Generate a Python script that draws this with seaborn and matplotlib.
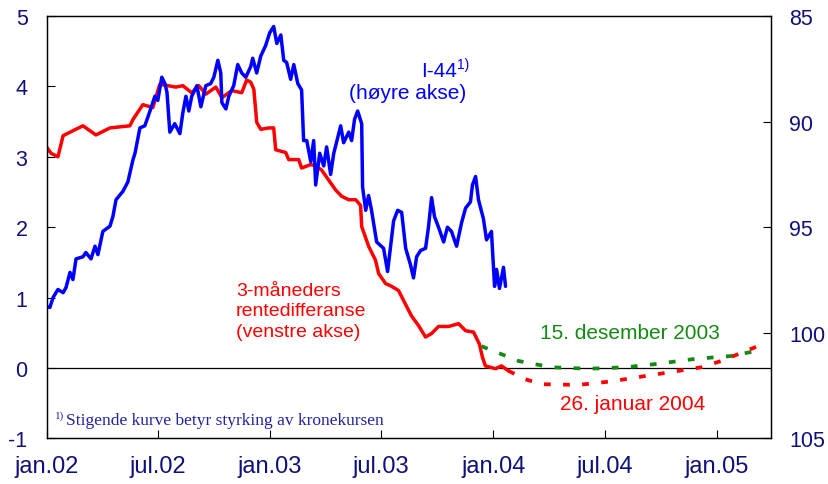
import numpy as np
import pandas as pd
import matplotlib
matplotlib.use("Agg")
import matplotlib.pyplot as plt
import seaborn as sns

# ---- data (time in decimal years) ----
rente_t = [0.000, 0.018, 0.049, 0.072, 0.116, 0.161, 0.219, 0.282, 0.371, 0.385,
           0.429, 0.474, 0.505, 0.577, 0.608, 0.648, 0.680, 0.711, 0.756, 0.783,
           0.827, 0.872, 0.894, 0.912, 0.926, 0.939, 0.957, 0.993, 1.015, 1.024,
           1.069, 1.082, 1.127, 1.140, 1.181, 1.203, 1.230, 1.261, 1.292, 1.319,
           1.351, 1.382, 1.404, 1.409, 1.440, 1.471, 1.485, 1.516, 1.543, 1.574,
           1.606, 1.632, 1.664, 1.695, 1.722, 1.753, 1.798, 1.843, 1.874, 1.910,
           1.936, 1.950, 1.963, 2.008, 2.035, 2.066]
rente_v = [3.13, 3.05, 3.00, 3.30, 3.37, 3.44, 3.31, 3.41, 3.44, 3.53,
           3.74, 3.70, 4.03, 3.99, 4.01, 3.91, 4.01, 3.89, 3.99, 3.84,
           3.94, 3.91, 4.09, 4.06, 3.96, 3.49, 3.39, 3.41, 3.41, 3.10,
           3.06, 2.96, 2.96, 2.84, 2.89, 2.87, 2.81, 2.67, 2.53, 2.44,
           2.39, 2.39, 2.31, 2.01, 1.73, 1.53, 1.34, 1.20, 1.16, 1.10,
           0.90, 0.74, 0.60, 0.44, 0.49, 0.59, 0.59, 0.63, 0.53, 0.51,
           0.34, 0.15, 0.03, -0.01, 0.03, -0.04]

i44_t = [0.000, 0.013, 0.027, 0.049, 0.072, 0.085, 0.103, 0.116, 0.130, 0.161,
         0.174, 0.197, 0.215, 0.228, 0.250, 0.282, 0.295, 0.309, 0.340, 0.362,
         0.385, 0.394, 0.416, 0.438, 0.461, 0.483, 0.496, 0.514, 0.528, 0.537,
         0.550, 0.572, 0.595, 0.608, 0.622, 0.635, 0.648, 0.671, 0.689, 0.711,
         0.733, 0.747, 0.765, 0.778, 0.783, 0.801, 0.814, 0.836, 0.854, 0.872,
         0.890, 0.912, 0.921, 0.939, 0.957, 0.979, 0.997, 1.015, 1.029, 1.047,
         1.060, 1.073, 1.091, 1.105, 1.123, 1.140, 1.149, 1.163, 1.181, 1.194,
         1.203, 1.221, 1.239, 1.252, 1.270, 1.284, 1.315, 1.328, 1.351, 1.364,
         1.377, 1.391, 1.409, 1.413, 1.427, 1.440, 1.453, 1.476, 1.507, 1.525,
         1.552, 1.570, 1.588, 1.606, 1.628, 1.641, 1.655, 1.673, 1.695, 1.708,
         1.722, 1.735, 1.753, 1.776, 1.793, 1.811, 1.834, 1.856, 1.874, 1.896,
         1.905, 1.919, 1.932, 1.954, 1.968, 1.990, 2.004, 2.013, 2.026, 2.044,
         2.053]
i44_v = [98.76, 98.80, 98.33, 97.95, 98.10, 97.86, 97.14, 97.48, 96.50, 96.40,
         96.20, 96.50, 95.90, 96.30, 95.20, 94.95, 94.50, 93.70, 93.30, 92.86,
         91.80, 91.50, 90.30, 90.20, 89.50, 88.80, 89.00, 87.90, 88.20, 88.60,
         90.50, 90.10, 90.57, 89.60, 88.80, 89.50, 88.80, 88.30, 89.30, 88.30,
         88.20, 87.90, 87.10, 87.70, 89.10, 89.40, 88.80, 88.30, 87.30, 87.70,
         87.90, 87.40, 87.00, 87.70, 86.90, 86.40, 85.80, 85.50, 86.30, 85.90,
         87.10, 87.20, 88.00, 87.30, 88.20, 88.50, 90.90, 90.90, 91.90, 90.90,
         93.00, 91.50, 92.10, 91.20, 92.50, 91.50, 90.20, 91.00, 90.50, 90.90,
         89.90, 89.50, 90.10, 93.10, 94.20, 93.50, 94.20, 95.70, 96.00, 97.10,
         94.70, 94.20, 94.30, 96.00, 96.80, 97.40, 96.40, 96.10, 96.00, 95.00,
         93.60, 94.50, 95.00, 95.70, 95.00, 95.20, 95.90, 94.80, 94.10, 93.80,
         93.00, 92.60, 93.70, 94.60, 95.60, 95.20, 97.80, 97.00, 97.90, 96.90,
         97.80]

fwd_des_t = [1.945, 2.111, 2.258, 2.424, 2.589, 2.737, 2.902, 3.063, 3.171]
fwd_des_v = [0.31, 0.10, 0.01, -0.01, 0.01, 0.06, 0.13, 0.17, 0.24]

fwd_jan_t = [2.066, 2.142, 2.214, 2.379, 2.527, 2.706, 2.929, 3.019, 3.175]
fwd_jan_v = [-0.04, -0.16, -0.23, -0.24, -0.19, -0.10, 0.01, 0.10, 0.30]

tick_dates = ["2002-01-01", "2002-07-01", "2003-01-01", "2003-07-01",
              "2004-01-01", "2004-07-01", "2005-01-01"]
tick_labels = ["jan.02", "jul.02", "jan.03", "jul.03", "jan.04", "jul.04", "jan.05"]
left_ticks = [-1, 0, 1, 2, 3, 4, 5]
right_ticks = [85, 90, 95, 100, 105]


def to_dates(t):
    start = pd.Timestamp("2002-01-01")
    return start + pd.to_timedelta(np.asarray(t) * 365.25, unit="D")


sns.set_theme(style="white")
plt.rcParams["font.family"] = ["Liberation Sans", "DejaVu Sans"]
navy = "#10107a"

fig, ax = plt.subplots(figsize=(8.29, 4.85), dpi=100)
fig.subplots_adjust(left=0.0567, right=0.930, bottom=0.094, top=0.965)
ax2 = ax.twinx()

sns.lineplot(x=to_dates(rente_t), y=rente_v, ax=ax, color="#ff0000",
             linewidth=2.5, estimator=None)
sns.lineplot(x=to_dates(fwd_des_t), y=fwd_des_v, ax=ax, color="#138a13",
             linewidth=2.7, estimator=None)
ax.lines[-1].set_dashes((1.8, 3.3))
sns.lineplot(x=to_dates(fwd_jan_t), y=fwd_jan_v, ax=ax, color="#ff0000",
             linewidth=2.7, estimator=None)
ax.lines[-1].set_dashes((1.8, 3.3))
sns.lineplot(x=to_dates(i44_t), y=i44_v, ax=ax2, color="#0000ff",
             linewidth=2.5, estimator=None)

ax.axhline(0, color="black", linewidth=0.9, zorder=1)

ax.set_xlim(pd.Timestamp("2002-01-01"), pd.Timestamp("2005-03-30"))
ax.set_ylim(-1, 5)
ax2.set_ylim(105, 85)

ax.set_xticks(pd.to_datetime(tick_dates))
ax.set_xticklabels(tick_labels)
ax.set_yticks(left_ticks)
ax.set_yticklabels([str(v) for v in left_ticks])
ax2.set_yticks(right_ticks)
ax2.set_yticklabels([str(v) for v in right_ticks])

ax.tick_params(axis="x", direction="in", length=6, width=0.8, color="black",
               labelsize=17, labelcolor=navy, pad=12, bottom=True)
ax.tick_params(axis="y", direction="in", length=6, width=0.8, color="black",
               labelsize=15.5, labelcolor=navy, pad=14, left=True)
ax2.tick_params(axis="y", direction="in", length=6, width=0.8, color="black",
                labelsize=15.5, labelcolor=navy, pad=13, right=True)
for a in (ax, ax2):
    for s in a.spines.values():
        s.set_color("black")
        s.set_linewidth(0.9)
ax.set_xlabel("")
ax.set_ylabel("")
ax2.set_ylabel("")
ax.grid(False)
ax2.grid(False)

# annotations
ax.text(0.566, 0.870, "I-44", transform=ax.transAxes, color="#0000ff",
        fontsize=15, ha="right", va="center")
ax.text(0.567, 0.887, "1)", transform=ax.transAxes, color="#0000ff",
        fontsize=10, ha="left", va="center")
ax.text(0.579, 0.820, "(høyre akse)", transform=ax.transAxes, color="#0000ff",
        fontsize=15, ha="right", va="center")
ax.text(0.261, 0.302, "3-måneders\nrentedifferanse\n(venstre akse)",
        transform=ax.transAxes, color="#ff0000", fontsize=14, ha="left",
        va="center", linespacing=1.25)
ax.text(0.805, 0.250, "15. desember 2003", transform=ax.transAxes,
        color="#138a13", fontsize=15, ha="center", va="center")
ax.text(0.809, 0.082, "26. januar 2004", transform=ax.transAxes,
        color="#ff0000", fontsize=15, ha="center", va="center")
ax.text(0.011, 0.056, "1)", transform=ax.transAxes, color="#2323a0",
        fontsize=8, family="Liberation Serif", ha="left", va="center")
ax.text(0.026, 0.044, "Stigende kurve betyr styrking av kronekursen",
        transform=ax.transAxes, color="#2323a0", fontsize=12.5,
        family="Liberation Serif", ha="left", va="center")

fig.savefig("out.png", dpi=100)
